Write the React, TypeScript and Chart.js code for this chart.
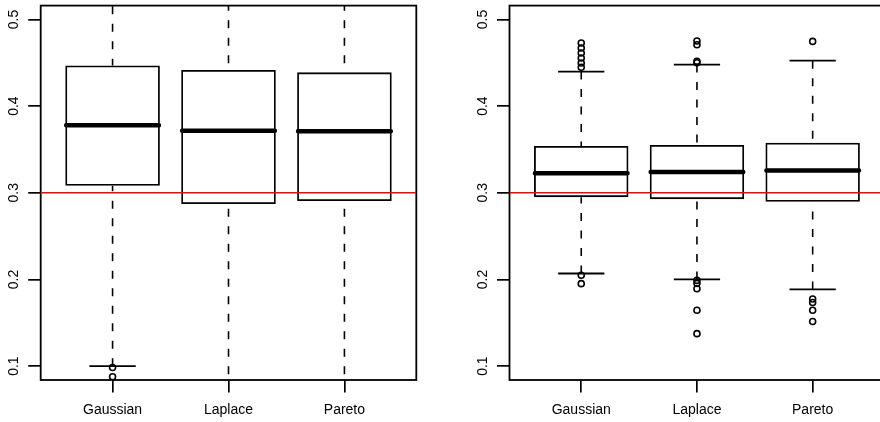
import React, { useEffect, useRef } from 'react';
import { Chart, registerables } from 'chart.js';

Chart.register(...registerables);

// ---------- data ----------
const categories = ['Gaussian', 'Laplace', 'Pareto'];
const yTickValues = [0.1, 0.2, 0.3, 0.4, 0.5];
const yTickLabels = ['0.1', '0.2', '0.3', '0.4', '0.5'];
const referenceValue = 0.3;

// left panel (five-number summaries)
const leftLowerWhisker = [0.1, 0.03, 0.03];
const leftQ1 = [0.308, 0.287, 0.2905];
const leftMedian = [0.378, 0.3716, 0.371];
const leftQ3 = [0.4468, 0.4417, 0.439];
const leftUpperWhisker = [0.596, 0.6, 0.6];
const leftOutliersGaussian = [0.0985, 0.0878];
const leftOutliersLaplace: number[] = [];
const leftOutliersPareto: number[] = [];

// right panel
const rightLowerWhisker = [0.2069, 0.2, 0.1885];
const rightQ1 = [0.295, 0.2927, 0.2897];
const rightMedian = [0.3226, 0.3241, 0.3257];
const rightQ3 = [0.354, 0.3552, 0.3578];
const rightUpperWhisker = [0.4399, 0.4479, 0.4524];
const rightOutliersGaussian = [0.4728, 0.467, 0.4613, 0.4555, 0.4498, 0.4448, 0.2048, 0.1952];
const rightOutliersLaplace = [0.4752, 0.4708, 0.4517, 0.4500, 0.1989, 0.1955, 0.1893, 0.1644, 0.1375];
const rightOutliersPareto = [0.4747, 0.1774, 0.1735, 0.1644, 0.1515];

// ---------- layout / style ----------
const X_MIN = 0.38;
const X_MAX = 3.62;
const Y_MIN = 0.084;
const Y_MAX = 0.516;
const FONT = '"Liberation Sans", Arial, Helvetica, sans-serif';

type Panel = {
  lower: number[];
  q1: number[];
  median: number[];
  q3: number[];
  upper: number[];
  outliers: number[][];
};

const leftPanel: Panel = {
  lower: leftLowerWhisker,
  q1: leftQ1,
  median: leftMedian,
  q3: leftQ3,
  upper: leftUpperWhisker,
  outliers: [leftOutliersGaussian, leftOutliersLaplace, leftOutliersPareto],
};

const rightPanel: Panel = {
  lower: rightLowerWhisker,
  q1: rightQ1,
  median: rightMedian,
  q3: rightQ3,
  upper: rightUpperWhisker,
  outliers: [rightOutliersGaussian, rightOutliersLaplace, rightOutliersPareto],
};

function makeChart(
  canvas: HTMLCanvasElement,
  panel: Panel,
  area: { left: number; right: number; top: number; bottom: number },
  width: number,
  height: number
) {
  const xs = categories.map((_, i) => i + 1);
  const half = 0.4;
  const capHalf = 0.2;

  const whiskers: any[] = [];
  const caps: any[] = [];
  const medians: any[] = [];
  const outliers: any[] = [];
  xs.forEach((x, i) => {
    whiskers.push({ x, y: panel.upper[i] }, { x, y: panel.q3[i] }, { x, y: null });
    whiskers.push({ x, y: panel.lower[i] }, { x, y: panel.q1[i] }, { x, y: null });
    caps.push({ x: x - capHalf, y: panel.upper[i] }, { x: x + capHalf, y: panel.upper[i] }, { x: x + capHalf, y: null });
    caps.push({ x: x - capHalf, y: panel.lower[i] }, { x: x + capHalf, y: panel.lower[i] }, { x: x + capHalf, y: null });
    medians.push({ x: x - half, y: panel.median[i] }, { x: x + half, y: panel.median[i] }, { x: x + half, y: null });
    panel.outliers[i].forEach((v) => outliers.push({ x, y: v }));
  });

  const boxes = xs.map((x, i) => ({ x, y: [panel.q1[i], panel.q3[i]] }));

  const decor = {
    id: 'decor',
    beforeDatasetsDraw(chart: any) {
      const { ctx, chartArea: a } = chart;
      ctx.save();
      ctx.strokeStyle = '#000';
      ctx.lineWidth = 1.8;
      ctx.strokeRect(a.left, a.top, a.right - a.left, a.bottom - a.top);
      ctx.restore();
    },
    afterDraw(chart: any) {
      const { ctx, chartArea: a } = chart;
      const ys = chart.scales.y;
      yTickValues.forEach((v, i) => {
        const py = ys.getPixelForValue(v);
        ctx.save();
        ctx.font = `14px ${FONT}`;
        ctx.fillStyle = '#000';
        ctx.textAlign = 'center';
        ctx.textBaseline = 'middle';
        ctx.translate(a.left - 26.8, py);
        ctx.rotate(-Math.PI / 2);
        ctx.fillText(yTickLabels[i], 0, 0);
        ctx.restore();
      });
    },
  };

  return new Chart(canvas, {
    type: 'bar',
    data: {
      datasets: [
        {
          type: 'bar',
          label: 'box',
          data: boxes as any,
          backgroundColor: 'rgba(255,255,255,0)',
          borderColor: '#000',
          borderWidth: 1.8,
          borderSkipped: false,
          categoryPercentage: 1,
          barPercentage: 0.816,
          order: 5,
          clip: 0,
        } as any,
        {
          type: 'line',
          label: 'whiskers',
          data: whiskers,
          borderColor: '#000',
          borderWidth: 1.6,
          borderDash: [8, 9.5],
          pointRadius: 0,
          spanGaps: false,
          order: 4,
          clip: 0,
        } as any,
        {
          type: 'line',
          label: 'caps',
          data: caps,
          borderColor: '#000',
          borderWidth: 1.8,
          pointRadius: 0,
          spanGaps: false,
          order: 4,
          clip: 0,
        } as any,
        {
          type: 'line',
          label: 'medians',
          data: medians,
          borderColor: '#000',
          borderWidth: 4.5,
          borderCapStyle: 'round',
          pointRadius: 0,
          spanGaps: false,
          order: 3,
          clip: 0,
        } as any,
        {
          type: 'line',
          label: 'outliers',
          data: outliers,
          showLine: false,
          pointStyle: 'circle',
          pointRadius: 3,
          pointBorderWidth: 1.6,
          pointBorderColor: '#000',
          pointBackgroundColor: 'rgba(255,255,255,0)',
          order: 2,
          clip: 0,
        } as any,
        {
          type: 'line',
          label: 'reference',
          data: [
            { x: X_MIN, y: referenceValue },
            { x: X_MAX, y: referenceValue },
          ],
          borderColor: '#ff0000',
          borderWidth: 1.6,
          pointRadius: 0,
          order: 1,
          clip: 0,
        } as any,
      ],
    },
    options: {
      animation: false,
      responsive: false,
      devicePixelRatio: 1,
      layout: {
        padding: { left: 0, top: area.top, right: width - area.right, bottom: 0 },
      },
      plugins: {
        legend: { display: false },
        tooltip: { enabled: false },
        title: { display: false },
      },
      scales: {
        x: {
          type: 'linear',
          min: X_MIN,
          max: X_MAX,
          bounds: 'data',
          offset: false,
          position: 'bottom',
          grid: {
            offset: false,
            drawOnChartArea: false,
            drawTicks: true,
            tickLength: 12.5,
            color: '#000',
            lineWidth: 1.7,
          },
          border: { display: false },
          ticks: {
            autoSkip: false,
            maxRotation: 0,
            minRotation: 0,
            padding: 9.5,
            color: '#000',
            font: { family: FONT, size: 14 },
            callback: (v: any) => categories[Math.round(Number(v)) - 1] ?? '',
          },
          afterBuildTicks: (s: any) => {
            s.ticks = categories.map((_, i) => ({ value: i + 1 }));
          },
          afterFit: (s: any) => {
            s.height = height - area.bottom;
          },
        },
        y: {
          type: 'linear',
          min: Y_MIN,
          max: Y_MAX,
          bounds: 'data',
          position: 'left',
          grid: {
            drawOnChartArea: false,
            drawTicks: true,
            tickLength: 12.5,
            color: '#000',
            lineWidth: 1.7,
          },
          border: { display: false },
          ticks: { display: false },
          afterBuildTicks: (s: any) => {
            s.ticks = yTickValues.map((v) => ({ value: v }));
          },
          afterFit: (s: any) => {
            s.width = area.left;
          },
        },
      },
    } as any,
    plugins: [decor],
  });
}

export default function App() {
  const leftRef = useRef<HTMLCanvasElement>(null);
  const rightRef = useRef<HTMLCanvasElement>(null);

  useEffect(() => {
    const c1 = makeChart(leftRef.current!, leftPanel, { left: 40.7, right: 416.3, top: 4.3, bottom: 380 }, 440, 422);
    const c2 = makeChart(rightRef.current!, rightPanel, { left: 69.5, right: 445, top: 4.3, bottom: 380 }, 450, 422);
    return () => {
      c1.destroy();
      c2.destroy();
    };
  }, []);

  return (
    <div
      style={{
        position: 'absolute',
        left: 0,
        top: 0,
        width: 880,
        height: 422,
        overflow: 'hidden',
        background: '#fff',
      }}
    >
      <canvas
        ref={leftRef}
        width={440}
        height={422}
        style={{ position: 'absolute', left: 0, top: 0, width: 440, height: 422 }}
      />
      <canvas
        ref={rightRef}
        width={450}
        height={422}
        style={{ position: 'absolute', left: 440, top: 0, width: 450, height: 422 }}
      />
    </div>
  );
}
